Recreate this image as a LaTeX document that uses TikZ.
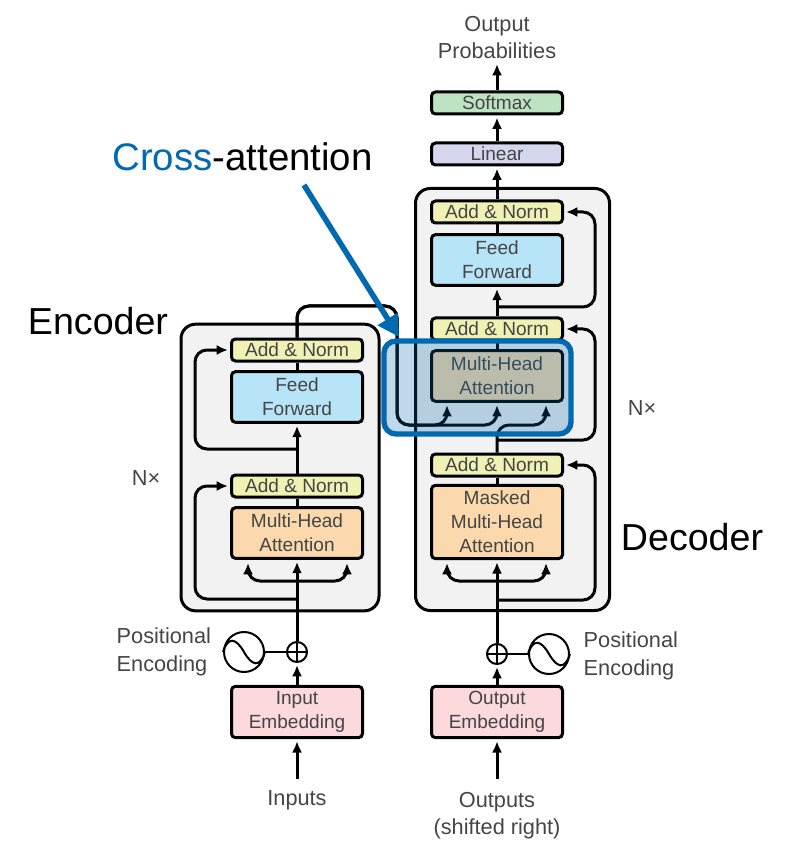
\documentclass[tikz,border=0pt]{standalone}
\usepackage{xcolor}
\usepackage{fontspec}
\setmainfont{Liberation Sans}
\usetikzlibrary{arrows,arrows.meta,calc}

\definecolor{normcol}{HTML}{EFF2B4}
\definecolor{feedcol}{HTML}{B8E4F7}
\definecolor{attncol}{HTML}{FBD9AC}
\definecolor{embedcol}{HTML}{FBD9DC}
\definecolor{softcol}{HTML}{BDE3C3}
\definecolor{linearcol}{HTML}{D5D7EF}
\definecolor{stackcol}{HTML}{F2F2F2}
\definecolor{crosscol}{HTML}{0069B0}
\definecolor{labelcol}{HTML}{454545}

\tikzset{
  block/.style={draw=black, line width=2.25pt, rounded corners=3pt, inner sep=0pt,
    minimum width=98.25pt, align=center, text=labelcol,
    font=\fontsize{14.3}{18}\selectfont},
  thinblock/.style={block, minimum height=16.5pt},
  twoblock/.style={block, minimum height=38pt},
  stack/.style={draw=black, line width=2.25pt, fill=stackcol, rounded corners=11pt, inner sep=0pt},
  conn/.style={-{Latex[length=8.5pt,width=7.5pt]}, line width=2.25pt, shorten >=1.5pt},
  turn/.style={conn, rounded corners=9pt},
  plain/.style={line width=2.25pt},
  caption/.style={text=labelcol, align=center, font=\fontsize{16.3}{20.25}\selectfont},
  sidecaption/.style={text=labelcol, align=left, font=\fontsize{16.3}{21}\selectfont},
  bigcaption/.style={font=\fontsize{28.2}{32}\selectfont},
  adder/.style={draw=black, circle, line width=1.5pt, minimum size=15pt, inner sep=0pt},
  wave/.style={draw=black, circle, line width=1.5pt, minimum size=30pt, inner sep=0pt},
}

\begin{document}
\begin{tikzpicture}[x=0.75pt, y=-0.75pt]
\useasboundingbox (0,0) rectangle (800,862);

\node[stack, minimum width=148.5pt, minimum height=215pt] (encstack) at (280,467.5) {};
\node[stack, minimum width=145.5pt, minimum height=316.5pt] (decstack) at (512.5,399.5) {};

\coordinate (encresa) at (297,599);
\coordinate (encresb) at (297,449);
\coordinate (encleft) at (248,561);
\coordinate (encright) at (347,561);
\coordinate (encsplit) at (297,581);
\coordinate (decresa) at (497,600);
\coordinate (decresb) at (497,440);
\coordinate (decresc) at (497,307);
\coordinate (decleft) at (447,561);
\coordinate (decright) at (546,561);
\coordinate (decsplit) at (497,581);
\coordinate (crossleft) at (447,403);
\coordinate (crossmid) at (497,403);
\coordinate (crossright) at (546,403);
\coordinate (inputsfoot) at (297,779);
\coordinate (outputsfoot) at (497,779);
\coordinate (probsfoot) at (497,62);

% encoder side
\node[block, minimum height=38.5pt, fill=embedcol] (inembed) at (297,712) {Input\\Embedding};
\node[adder] (encplus) at (297,652) {};
\node[wave] (encwave) at (244,652) {};
\node[twoblock, fill=attncol] (encattn) at (297,533) {Multi-Head\\Attention};
\node[thinblock, fill=normcol] (encnorma) at (297,486) {Add \& Norm};
\node[twoblock, fill=feedcol] (encfeed) at (297,397) {Feed\\Forward};
\node[thinblock, fill=normcol] (encnormb) at (297,350) {Add \& Norm};

% decoder side
\node[block, minimum height=38.5pt, fill=embedcol] (outembed) at (497,712) {Output\\Embedding};
\node[adder] (decplus) at (497,654) {};
\node[wave] (decwave) at (549,654) {};
\node[block, minimum height=55pt, fill=attncol] (decmask) at (497,522) {Masked\\Multi-Head\\Attention};
\node[thinblock, fill=normcol] (decnorma) at (497,465) {Add \& Norm};
\node[twoblock, fill=attncol] (decattn) at (497,376) {Multi-Head\\Attention};
\node[thinblock, fill=normcol] (decnormb) at (497,329) {Add \& Norm};
\node[twoblock, fill=feedcol] (decfeed) at (497,260) {Feed\\Forward};
\node[thinblock, fill=normcol] (decnormc) at (497,212) {Add \& Norm};
\node[thinblock, fill=linearcol] (linear) at (497,154) {Linear};
\node[thinblock, fill=softcol] (softmax) at (497,103) {Softmax};

% captions
\node[caption] (inputs) at (297,800) {Inputs};
\node[caption] (outputs) at (497,816) {Outputs\\(shifted right)};
\node[caption] (probs) at (497,38) {Output\\Probabilities};
\node[sidecaption, anchor=west] (encpos) at (112,652) {Positional\\Encoding};
\node[sidecaption, anchor=west] (decpos) at (579,656) {Positional\\Encoding};
\node[caption] (encn) at (146,478) {N×};
\node[caption] (decn) at (642,408) {N×};
\node[bigcaption] (enclabel) at (98,321) {Encoder};
\node[bigcaption] (declabel) at (692,537) {Decoder};

% encoder arrows
\draw[conn] (inputsfoot) -- (inembed.south);
\draw[conn] (inembed.north) -- (encplus.south);
\draw[conn] (encplus.north) -- (encattn.south);
\draw[plain] (encattn.north) -- (encnorma.south);
\draw[conn] (encnorma.north) -- (encfeed.south);
\draw[plain] (encfeed.north) -- (encnormb.south);
\draw[turn] (encsplit) -| (encleft);
\draw[turn] (encsplit) -| (encright);
\draw[turn] (encresa) -| (195,486) -- (encnorma.west);
\draw[turn] (encresb) -| (195,350) -- (encnormb.west);

% decoder arrows
\draw[conn] (outputsfoot) -- (outembed.south);
\draw[conn] (outembed.north) -- (decplus.south);
\draw[conn] (decplus.north) -- (decmask.south);
\draw[plain] (decmask.north) -- (decnorma.south);
\draw[plain] (decattn.north) -- (decnormb.south);
\draw[conn] (decnormb.north) -- (decfeed.south);
\draw[plain] (decfeed.north) -- (decnormc.south);
\draw[conn] (decnormc.north) -- (linear.south);
\draw[conn] (linear.north) -- (softmax.south);
\draw[conn] (softmax.north) -- (probsfoot);
\draw[turn] (decsplit) -| (decleft);
\draw[turn] (decsplit) -| (decright);
\draw[turn] (decresa) -| (595,465) -- (decnorma.east);
\draw[turn] (decresb) -| (595,329) -- (decnormb.east);
\draw[turn] (decresc) -| (595,212) -- (decnormc.east);

% encoder output into the middle block
\draw[turn] (encnormb.north) |- (397,306) -- (397,425) -| (crossleft);
\draw[turn] (encnormb.north) |- (397,306) -- (397,425) -| (crossmid);
\draw[turn] (decnorma.north) |- (546,425) -- (crossright);

% positional encoding
\draw[line width=1.5pt] (encwave.east) -- (encplus.west);
\draw[line width=1.5pt] (decwave.west) -- (decplus.east);
\draw[line width=1pt] (encplus.north) -- (encplus.south) (encplus.west) -- (encplus.east);
\draw[line width=1pt] (decplus.north) -- (decplus.south) (decplus.west) -- (decplus.east);
\draw[line width=1.5pt] (encwave.west) .. controls +(5,-16) and +(-8,-14) .. (encwave.center) .. controls +(8,14) and +(-5,16) .. (encwave.east);
\draw[line width=1.5pt] (decwave.west) .. controls +(5,-16) and +(-8,-14) .. (decwave.center) .. controls +(8,14) and +(-5,16) .. (decwave.east);

% highlight
\node[draw=crosscol, line width=4pt, fill=crosscol, fill opacity=0.25, draw opacity=1, rounded corners=9pt,
  minimum width=140.25pt, minimum height=69.75pt, inner sep=0pt] (crossbox) at (477.5,387.5) {};
\node[bigcaption, font=\fontsize{28.8}{32}\selectfont] (crosslabel) at (242.5,157) {\textcolor{crosscol}{Cross}-attention};
\coordinate (crossfrom) at (304,185);
\coordinate (crossto) at (399,337);
\draw[-{Triangle[length=16pt,width=17pt]}, draw=crosscol, fill=crosscol, line width=4.2pt] (crossfrom) -- (crossto);
\end{tikzpicture}
\end{document}
